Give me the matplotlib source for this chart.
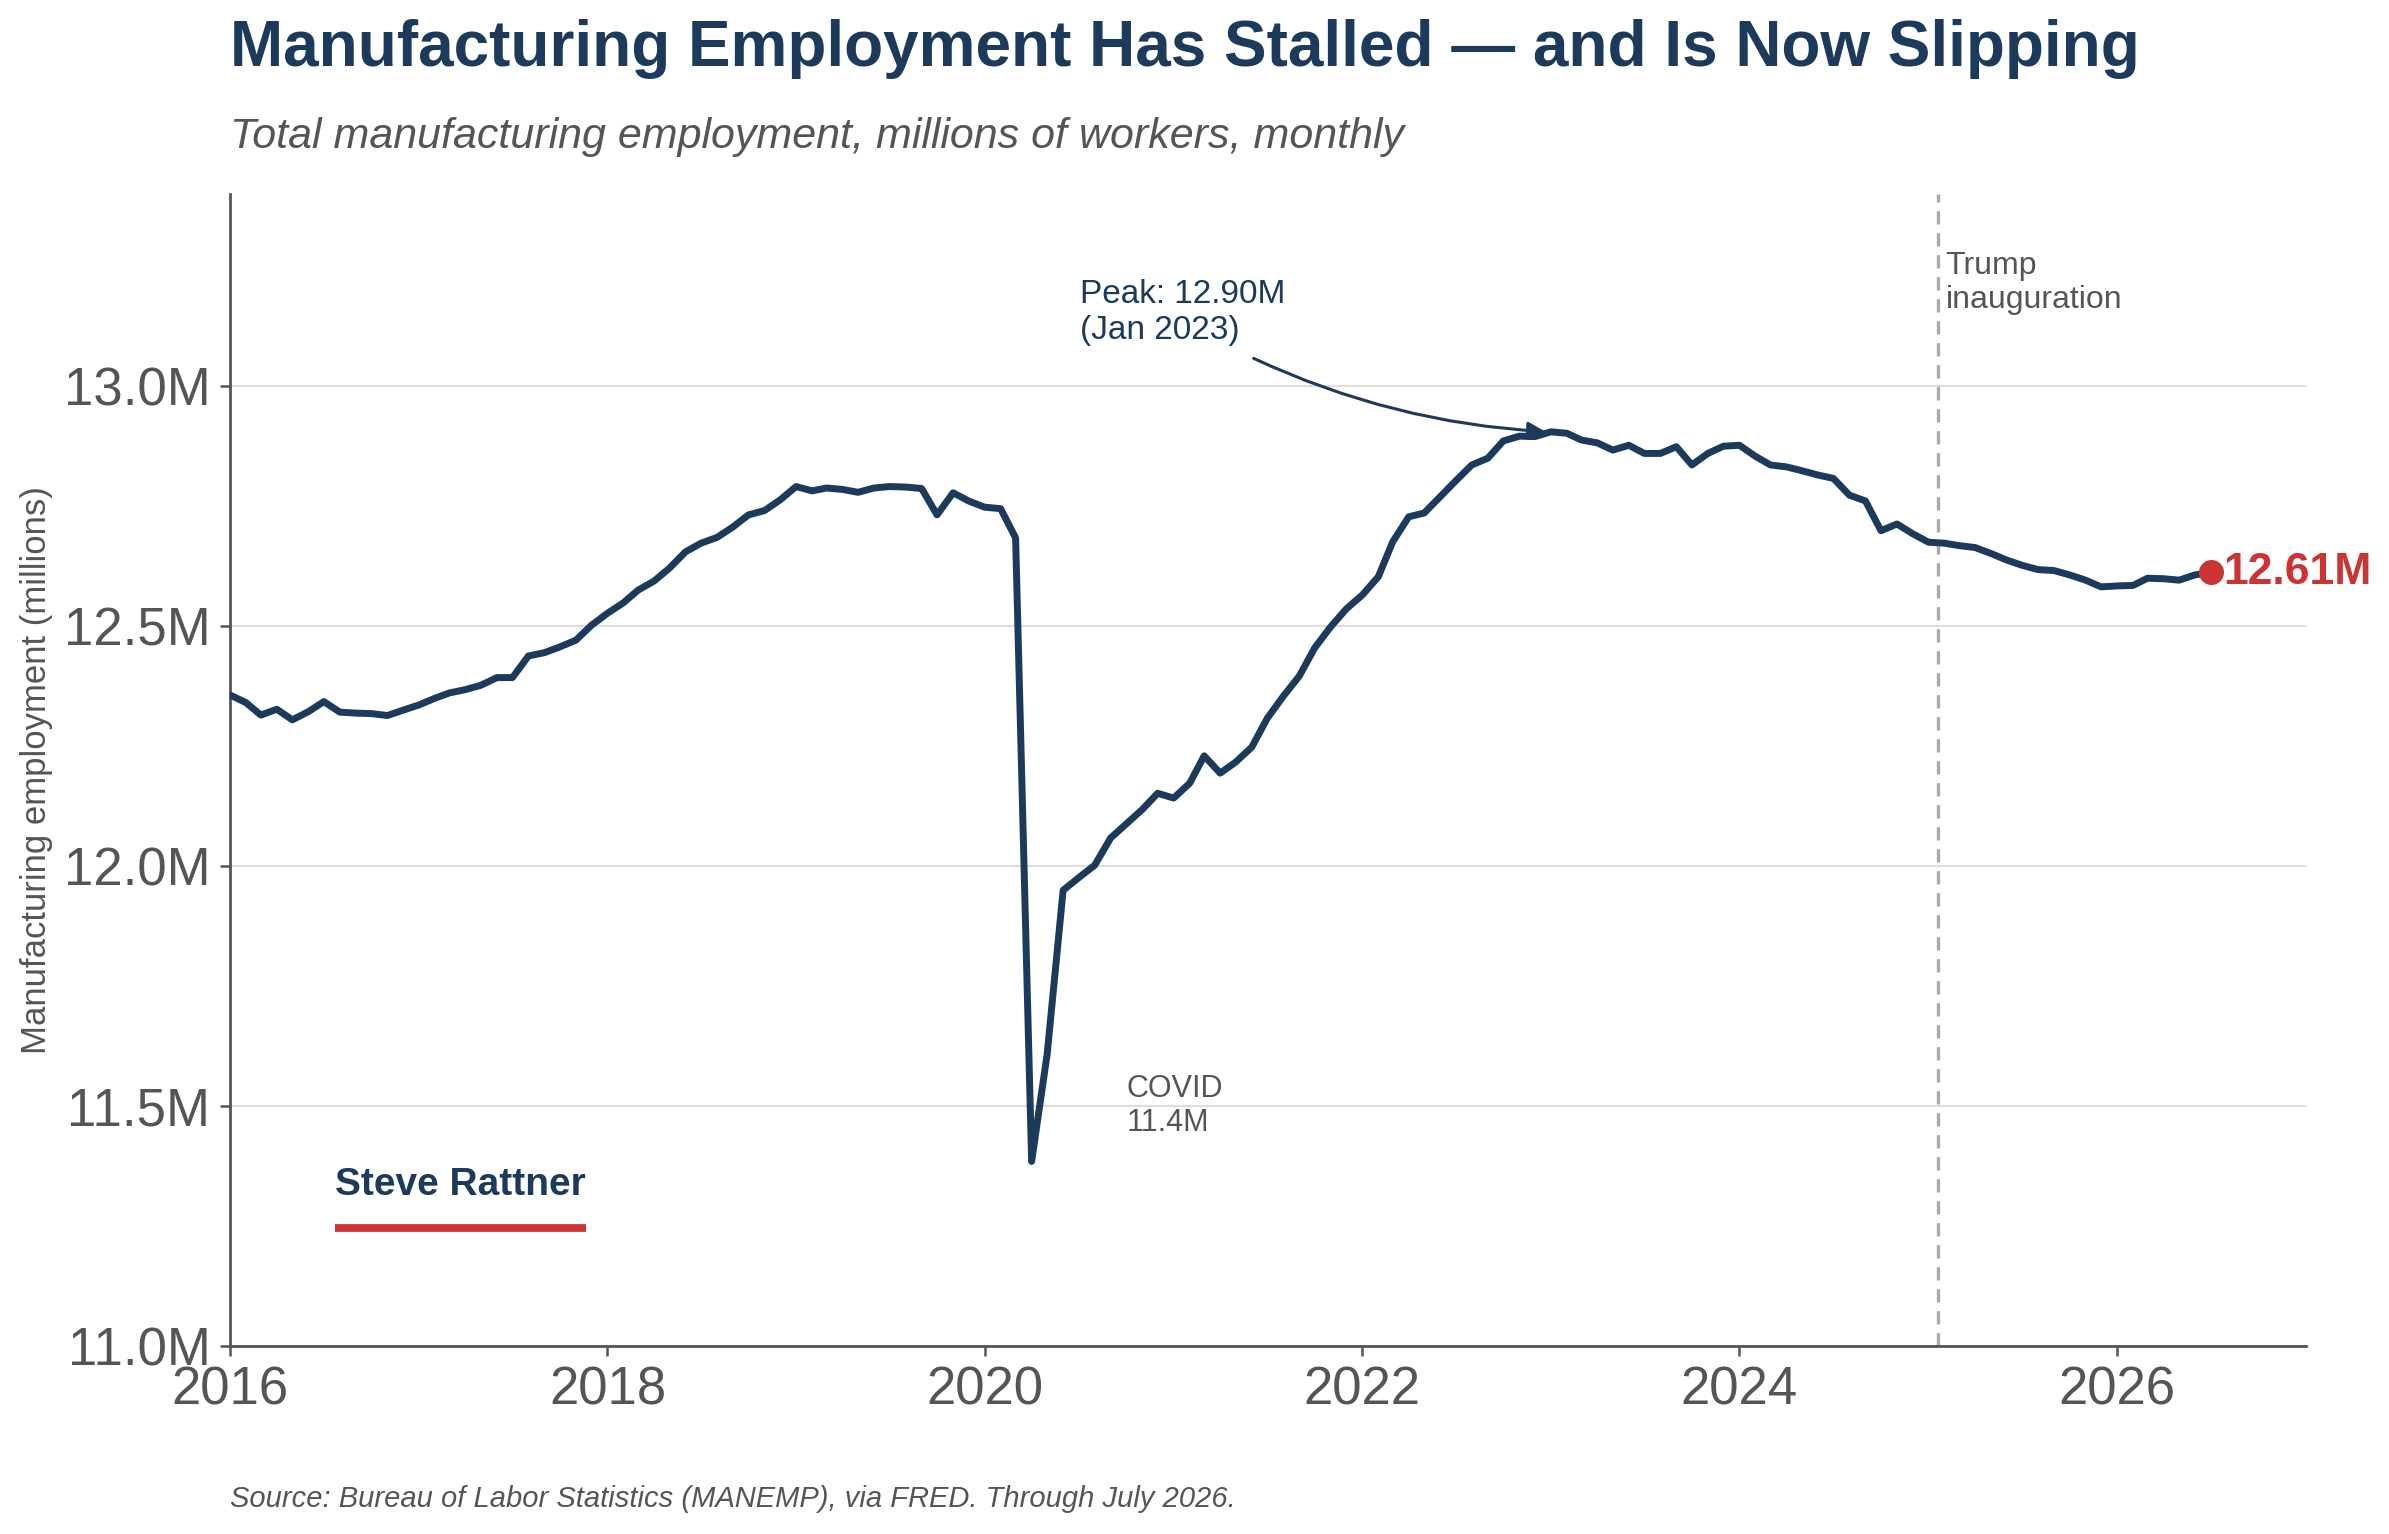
import matplotlib
matplotlib.use("Agg")
import matplotlib.pyplot as plt
import matplotlib.dates as mdates
from matplotlib.ticker import FuncFormatter
import pandas as pd

plt.rcParams["font.family"] = ["Liberation Sans", "DejaVu Sans"]

NAVY = "#1b3a5c"
RED = "#cc3333"
GRAY = "#555555"

# total manufacturing employment, millions, monthly
emp_2016 = [12.356, 12.340, 12.314, 12.326, 12.304, 12.321, 12.342, 12.320, 12.318, 12.317, 12.313, 12.324]
emp_2017 = [12.335, 12.349, 12.360, 12.367, 12.376, 12.392, 12.392, 12.437, 12.444, 12.456, 12.470, 12.501]
emp_2018 = [12.526, 12.548, 12.574, 12.593, 12.620, 12.654, 12.672, 12.684, 12.706, 12.731, 12.740, 12.762]
emp_2019 = [12.790, 12.781, 12.787, 12.784, 12.778, 12.787, 12.790, 12.789, 12.786, 12.731, 12.777, 12.760]
emp_2020 = [12.747, 12.744, 12.683, 11.384, 11.607, 11.949, 11.975, 12.001, 12.058, 12.087, 12.117, 12.151]
emp_2021 = [12.141, 12.172, 12.229, 12.193, 12.216, 12.247, 12.307, 12.353, 12.395, 12.454, 12.498, 12.535]
emp_2022 = [12.564, 12.602, 12.675, 12.727, 12.735, 12.769, 12.802, 12.835, 12.849, 12.885, 12.895, 12.894]
emp_2023 = [12.904, 12.901, 12.887, 12.881, 12.866, 12.876, 12.859, 12.859, 12.873, 12.835, 12.859, 12.874]
emp_2024 = [12.876, 12.853, 12.835, 12.831, 12.823, 12.814, 12.807, 12.772, 12.760, 12.698, 12.712, 12.692]
emp_2025 = [12.674, 12.672, 12.667, 12.663, 12.651, 12.637, 12.626, 12.617, 12.615, 12.606, 12.595, 12.581]
emp_2026 = [12.583, 12.584, 12.599, 12.598, 12.595, 12.606, 12.611]

values = emp_2016 + emp_2017 + emp_2018 + emp_2019 + emp_2020 + emp_2021 + \
    emp_2022 + emp_2023 + emp_2024 + emp_2025 + emp_2026
months = pd.date_range("2016-01-01", periods=len(values), freq="MS")

y_ticks = [11.0, 11.5, 12.0, 12.5, 13.0]
inauguration = pd.Timestamp("2025-01-20")

peak_idx = values.index(max(values))
low_idx = values.index(min(values))

fig = plt.figure(figsize=(11.945, 7.67), dpi=200)
ax = fig.add_axes([0.0962, 0.1227, 0.8689, 0.751])

ax.plot(months, values, color=NAVY, lw=2.5, zorder=3)
ax.plot(months[-1], values[-1], "o", color=RED, ms=8, zorder=4)

ax.axvline(inauguration, color="#aaaaaa", lw=1.2, ls=(0, (4, 2.6)), zorder=2)

ax.set_xlim(pd.Timestamp("2016-01-01"), pd.Timestamp("2027-01-01"))
ax.set_ylim(11.0, 13.4)
ax.set_yticks(y_ticks)
ax.yaxis.set_major_formatter(FuncFormatter(lambda v, p: f"{v:.1f}M"))
ax.xaxis.set_major_locator(mdates.YearLocator(2))
ax.xaxis.set_major_formatter(mdates.DateFormatter("%Y"))

ax.grid(axis="y", color="#dddddd", lw=0.8, zorder=0)
ax.set_axisbelow(True)
for s in ["top", "right"]:
    ax.spines[s].set_visible(False)
for s in ["left", "bottom"]:
    ax.spines[s].set_color(GRAY)
    ax.spines[s].set_linewidth(1.0)
ax.tick_params(colors=GRAY, labelsize=19, length=3.5, width=0.9)

ax.set_ylabel("Manufacturing employment (millions)", fontsize=12.5, color=GRAY)
ax.yaxis.set_label_coords(-0.085, 0.5)

# annotations (y is the baseline of the last line)
ax.text(pd.Timestamp("2020-07-04"), 13.097, "Peak: 12.90M\n(Jan 2023)",
        fontsize=12, color=NAVY, va="baseline", ha="left")
ax.annotate("", xy=(months[peak_idx], values[peak_idx]),
            xytext=(pd.Timestamp("2021-05-26"), 13.062),
            arrowprops=dict(arrowstyle="-|>", color=NAVY, lw=1.1,
                            mutation_scale=13, connectionstyle="arc3,rad=0.1"))

ax.text(months[low_idx] + pd.Timedelta(days=183), 11.447, "COVID\n11.4M",
        fontsize=11, color=GRAY, va="baseline", ha="left")

ax.text(inauguration + pd.Timedelta(days=14), 13.161, "Trump\ninauguration",
        fontsize=11.5, color=GRAY, va="baseline", ha="left")

ax.text(months[-1] + pd.Timedelta(days=25), values[-1], f"{values[-1]:.2f}M",
        fontsize=16, color=RED, fontweight="bold", va="center", ha="left")

ax.text(0.0505, 0.1308, "Steve Rattner", transform=ax.transAxes,
        fontsize=14, fontweight="bold", color=NAVY, va="baseline", ha="left")
ax.plot([0.0505, 0.1715], [0.1022, 0.1022], transform=ax.transAxes,
        color=RED, lw=2.8, solid_capstyle="butt", clip_on=False)

fig.text(0.0962, 0.957, "Manufacturing Employment Has Stalled \u2014 and Is Now Slipping",
         fontsize=23, fontweight="bold", color=NAVY, va="baseline", ha="left")
fig.text(0.0962, 0.9033, "Total manufacturing employment, millions of workers, monthly",
         fontsize=15.5, fontstyle="italic", color=GRAY, va="baseline", ha="left")
fig.text(0.0962, 0.0178, "Source: Bureau of Labor Statistics (MANEMP), via FRED. Through July 2026.",
         fontsize=10.5, fontstyle="italic", color=GRAY, va="baseline", ha="left")

fig.savefig("out.png", dpi=200)
